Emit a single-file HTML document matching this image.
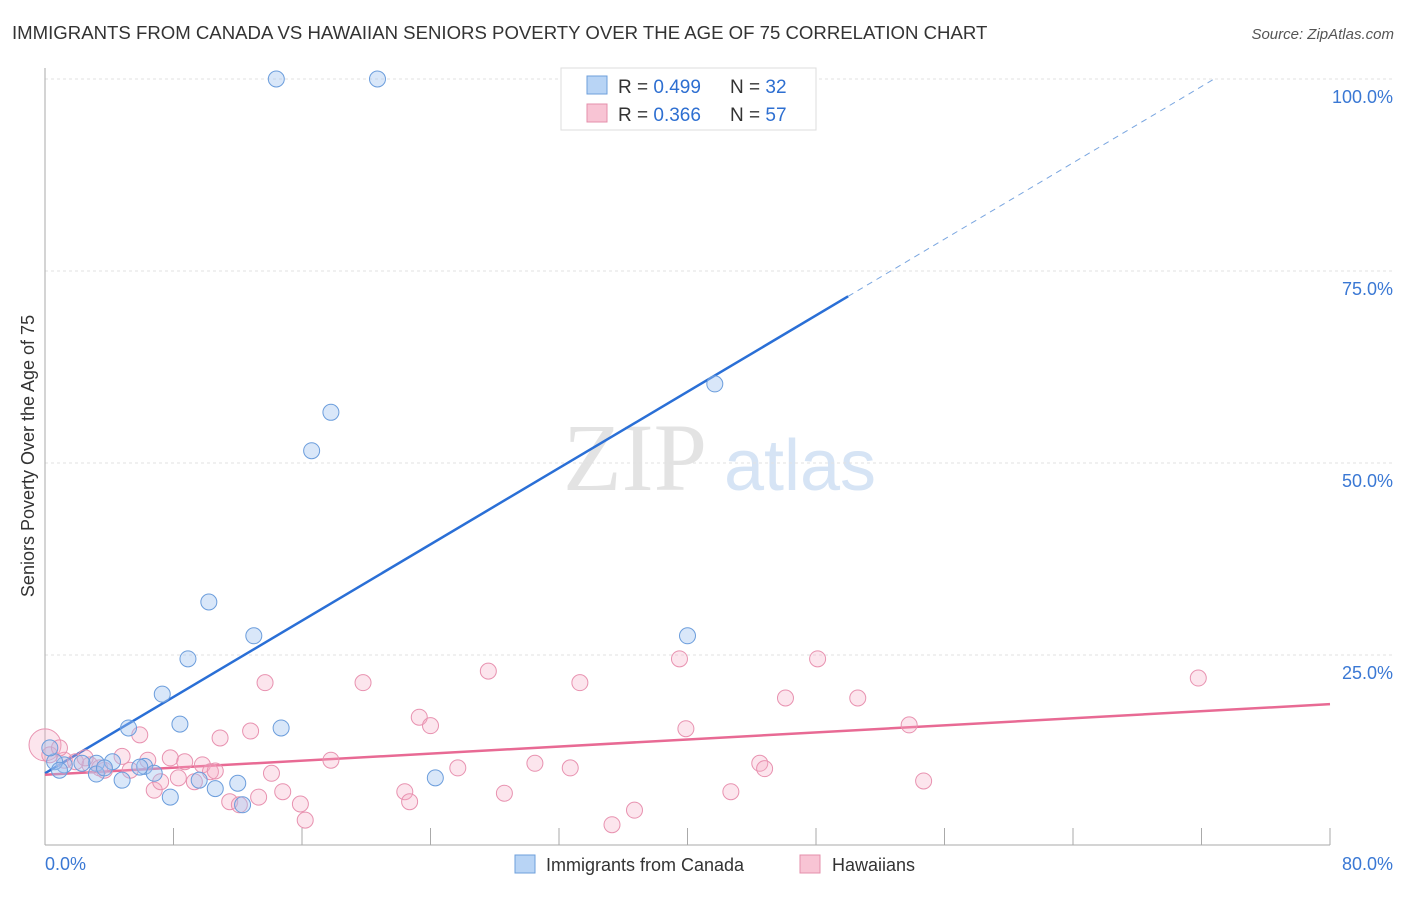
<!DOCTYPE html>
<html><head><meta charset="utf-8"><style>
body{margin:0;background:#fff;font-family:"Liberation Sans",sans-serif;}
</style></head><body>
<svg id="chart" width="1406" height="892" xmlns="http://www.w3.org/2000/svg" font-family="Liberation Sans, sans-serif">
<text x="12" y="39" font-size="18.6" fill="#333">IMMIGRANTS FROM CANADA VS HAWAIIAN SENIORS POVERTY OVER THE AGE OF 75 CORRELATION CHART</text>
<text x="1394" y="39" font-size="15" fill="#555" font-style="italic" text-anchor="end">Source: ZipAtlas.com</text>
<g><text x="635" y="490" font-size="96" fill="#e3e3e3" font-family="Liberation Serif, serif" text-anchor="middle">ZIP</text><text x="800" y="490" font-size="72" fill="#d6e4f5" text-anchor="middle">atlas</text></g>
<g id="grid"></g><g id="axes"></g><g id="lines"></g><g id="pts"></g>
<text transform="translate(34,456) rotate(-90)" font-size="18" fill="#333" text-anchor="middle">Seniors Poverty Over the Age of 75</text>
<g>
<rect x="561" y="68" width="255" height="62" fill="#fff" stroke="#ddd"/>
<rect x="587" y="76" width="20" height="18" fill="#b8d4f5" stroke="#6e9fdb"/>
<rect x="587" y="104" width="20" height="18" fill="#f8c4d4" stroke="#e48fab"/>
<text x="618" y="93" font-size="19" fill="#333">R = <tspan fill="#2e6fd1">0.499</tspan></text>
<text x="730" y="93" font-size="19" fill="#333">N = <tspan fill="#2e6fd1">32</tspan></text>
<text x="618" y="121" font-size="19" fill="#333">R = <tspan fill="#2e6fd1">0.366</tspan></text>
<text x="730" y="121" font-size="19" fill="#333">N = <tspan fill="#2e6fd1">57</tspan></text>
</g>
<g>
<rect x="515" y="855" width="20" height="18" fill="#b8d4f5" stroke="#6e9fdb"/>
<text x="546" y="871" font-size="18" fill="#333">Immigrants from Canada</text>
<rect x="800" y="855" width="20" height="18" fill="#f8c4d4" stroke="#e48fab"/>
<text x="832" y="871" font-size="18" fill="#333">Hawaiians</text>
</g>
</svg>
<script>
const yTicks=[25,50,75,100];
const yTickLabels=["25.0%","50.0%","75.0%","100.0%"];
const xTicks=[0,8,16,24,32,40,48,56,64,72,80];
const canadaX=[14.4,20.7,17.8,16.6,41.7,10.2,13.0,40.0,8.9,7.3,8.4,5.2,14.7,4.2,3.2,2.3,1.2,0.6,6.2,6.8,5.9,4.8,3.2,9.6,7.8,10.6,12.0,12.3,24.3,0.3,3.7,0.9];
const canadaY=[100,100,56.6,51.6,60.3,31.9,27.5,27.5,24.5,19.9,16.0,15.5,15.5,11.1,10.9,10.9,10.7,11.1,10.5,9.6,10.4,8.7,9.5,8.7,6.5,7.6,8.3,5.5,9.0,12.9,10.3,10.0];
const hawX=[0,0.3,1.2,1.9,2.8,3.7,4.8,5.9,6.8,7.2,7.8,8.3,8.7,9.3,9.8,10.3,10.9,11.5,12.1,12.8,13.3,13.7,14.1,14.8,15.9,16.2,17.8,19.8,23.3,24.0,22.4,22.7,25.7,27.6,28.6,30.5,32.7,33.3,35.3,36.7,39.5,39.9,42.7,44.5,44.8,46.1,48.1,50.6,53.8,54.7,71.8,5.3,10.6,3.4,2.5,0.9,6.4];
const hawY=[13.3,12.0,11.3,11.1,10.7,10.0,11.8,14.6,7.4,8.5,11.6,9.0,11.1,8.5,10.7,9.8,14.2,5.9,5.5,15.1,6.5,21.4,9.6,7.2,5.6,3.5,11.3,21.4,16.9,15.8,7.2,5.9,10.3,22.9,7.0,10.9,10.3,21.4,2.9,4.8,24.5,15.4,7.2,10.9,10.2,19.4,24.5,19.4,15.9,8.6,22.0,10.0,9.9,10.3,11.6,12.9,11.3];
const canadaTrend=[9.6,1.242];
const hawTrend=[9.4,0.115];
const NS="http://www.w3.org/2000/svg";
const X=v=>45+v*1285/80, Y=v=>847-v*7.68;
function mk(t,a,p){const e=document.createElementNS(NS,t);for(const k in a)e.setAttribute(k,a[k]);document.getElementById(p).appendChild(e);return e;}
yTicks.forEach((t,i)=>{
 const l=mk('line',{x1:45,x2:1395,y1:Y(t),y2:Y(t),stroke:'#e2e2e2','stroke-dasharray':'3,3'},'grid');
 
 
 const tx=mk('text',{x:1393,y:Y(t)+24,'font-size':18,fill:'#3a78d4','text-anchor':'end'},'grid');tx.textContent=yTickLabels[i];
 
 
});
mk('line',{x1:45,x2:45,y1:68,y2:845,stroke:'#aaa'},'axes');
mk('line',{x1:45,x2:1330,y1:845,y2:845,stroke:'#aaa'},'axes');
xTicks.forEach(t=>{const l=mk('line',{x1:X(t),x2:X(t),y1:828,y2:845,stroke:'#aaa'},'axes');
 
 });
let t0=mk('text',{x:45,y:870,'font-size':18,fill:'#3a78d4'},'axes');t0.textContent='0.0%';


let t1=mk('text',{x:1393,y:870,'font-size':18,fill:'#3a78d4','text-anchor':'end'},'axes');t1.textContent='80.0%';


const xe=(100-canadaTrend[0])/canadaTrend[1];
let b1=mk('line',{x1:X(0),y1:Y(canadaTrend[0]),x2:X(50),y2:Y(canadaTrend[0]+50*canadaTrend[1]),stroke:'#2a6fd6','stroke-width':2.5},'lines');


let b2=mk('line',{x1:X(50),y1:Y(canadaTrend[0]+50*canadaTrend[1]),x2:X(xe),y2:Y(100),stroke:'#7aa6e0','stroke-width':1,'stroke-dasharray':'6,5'},'lines');


let p1=mk('line',{x1:X(0),y1:Y(hawTrend[0]),x2:X(80),y2:Y(hawTrend[0]+80*hawTrend[1]),stroke:'#e86a94','stroke-width':2.5},'lines');


hawX.forEach((x,i)=>{const c=mk('circle',{cx:X(x),cy:Y(hawY[i]),r:i==0?16:8,fill:'rgba(245,170,195,0.3)',stroke:'#e892b0','stroke-width':1},'pts');
 
 });
canadaX.forEach((x,i)=>{const c=mk('circle',{cx:X(x),cy:Y(canadaY[i]),r:8,fill:'rgba(160,195,240,0.4)',stroke:'#6b9ddc','stroke-width':1},'pts');
 
 });
</script>
</body></html>
